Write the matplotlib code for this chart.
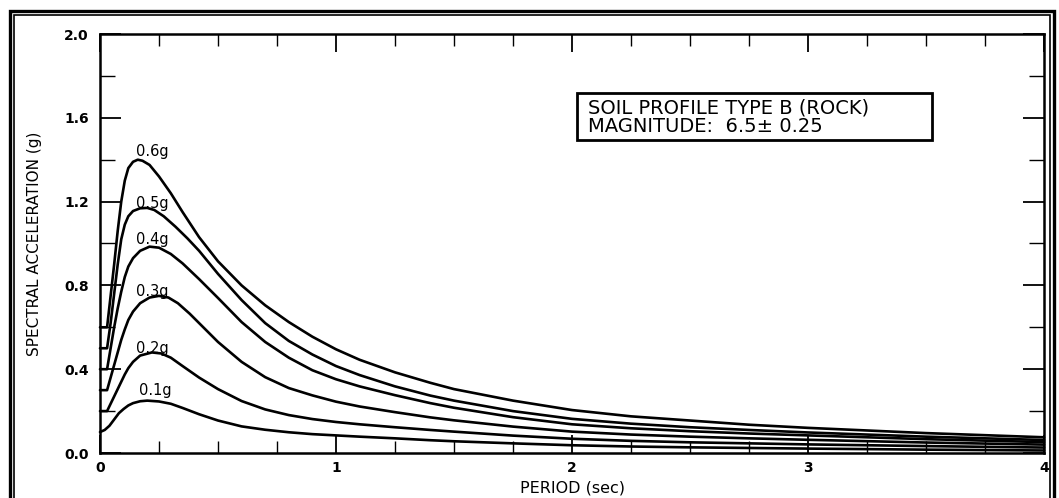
import matplotlib
matplotlib.use("Agg")
import matplotlib.pyplot as plt
from matplotlib.patches import Rectangle
from matplotlib.ticker import MultipleLocator

# ---------------- data ----------------
labels = ["0.6g", "0.5g", "0.4g", "0.3g", "0.2g", "0.1g"]

period_06 = [0.0, 0.03, 0.045, 0.06, 0.075, 0.09, 0.105, 0.12, 0.14, 0.16, 0.18, 0.21, 0.25,
             0.3, 0.35, 0.42, 0.5, 0.6, 0.7, 0.8, 0.9, 1.0, 1.1, 1.25, 1.4, 1.5, 1.75, 2.0,
             2.25, 2.5, 2.75, 3.0, 3.5, 4.0]
sa_06 = [0.60, 0.60, 0.75, 0.90, 1.06, 1.20, 1.30, 1.36, 1.39, 1.40, 1.395, 1.375, 1.32,
         1.24, 1.15, 1.03, 0.915, 0.80, 0.705, 0.625, 0.555, 0.495, 0.445, 0.385, 0.335,
         0.305, 0.25, 0.205, 0.175, 0.155, 0.135, 0.12, 0.095, 0.075]

period_05 = [0.0, 0.03, 0.045, 0.06, 0.075, 0.09, 0.105, 0.12, 0.14, 0.17, 0.2, 0.23, 0.27,
             0.32, 0.37, 0.42, 0.5, 0.6, 0.7, 0.8, 0.9, 1.0, 1.1, 1.25, 1.4, 1.5, 1.75, 2.0,
             2.25, 2.5, 2.75, 3.0, 3.5, 4.0]
sa_05 = [0.50, 0.50, 0.62, 0.76, 0.90, 1.02, 1.09, 1.13, 1.155, 1.168, 1.17, 1.16, 1.13,
         1.08, 1.025, 0.965, 0.855, 0.73, 0.62, 0.535, 0.47, 0.415, 0.372, 0.318, 0.274,
         0.25, 0.2, 0.163, 0.14, 0.123, 0.11, 0.098, 0.078, 0.062]

period_04 = [0.0, 0.03, 0.045, 0.06, 0.075, 0.09, 0.105, 0.12, 0.14, 0.17, 0.21, 0.25, 0.3,
             0.35, 0.42, 0.5, 0.6, 0.7, 0.8, 0.9, 1.0, 1.1, 1.25, 1.4, 1.5, 1.75, 2.0,
             2.25, 2.5, 2.75, 3.0, 3.5, 4.0]
sa_04 = [0.40, 0.40, 0.50, 0.60, 0.69, 0.77, 0.84, 0.89, 0.93, 0.965, 0.985, 0.98, 0.95,
         0.905, 0.83, 0.74, 0.625, 0.53, 0.455, 0.395, 0.352, 0.318, 0.276, 0.238, 0.216,
         0.171, 0.137, 0.118, 0.104, 0.093, 0.084, 0.066, 0.052]

period_03 = [0.0, 0.03, 0.045, 0.06, 0.075, 0.09, 0.105, 0.12, 0.14, 0.17, 0.21, 0.25, 0.29,
             0.33, 0.38, 0.42, 0.5, 0.6, 0.7, 0.8, 0.9, 1.0, 1.1, 1.25, 1.4, 1.5, 1.75, 2.0,
             2.25, 2.5, 2.75, 3.0, 3.5, 4.0]
sa_03 = [0.30, 0.30, 0.36, 0.42, 0.48, 0.54, 0.59, 0.635, 0.675, 0.715, 0.742, 0.75, 0.742,
         0.715, 0.665, 0.62, 0.53, 0.435, 0.362, 0.31, 0.275, 0.245, 0.222, 0.195, 0.17,
         0.156, 0.126, 0.102, 0.088, 0.078, 0.07, 0.063, 0.05, 0.04]

period_02 = [0.0, 0.03, 0.045, 0.06, 0.075, 0.09, 0.105, 0.12, 0.14, 0.17, 0.22, 0.26, 0.3,
             0.35, 0.42, 0.5, 0.6, 0.7, 0.8, 0.9, 1.0, 1.1, 1.25, 1.4, 1.5, 1.75, 2.0,
             2.25, 2.5, 2.75, 3.0, 3.5, 4.0]
sa_02 = [0.20, 0.20, 0.235, 0.27, 0.305, 0.34, 0.375, 0.405, 0.435, 0.465, 0.48, 0.475, 0.455,
         0.415, 0.36, 0.305, 0.248, 0.208, 0.181, 0.162, 0.148, 0.137, 0.123, 0.11, 0.102,
         0.083, 0.068, 0.058, 0.051, 0.046, 0.041, 0.033, 0.026]

period_01 = [0.0, 0.02, 0.04, 0.06, 0.08, 0.1, 0.12, 0.14, 0.17, 0.2, 0.25, 0.3, 0.35, 0.42,
             0.5, 0.6, 0.7, 0.8, 0.9, 1.0, 1.1, 1.25, 1.4, 1.5, 1.75, 2.0, 2.25, 2.5, 2.75,
             3.0, 3.5, 4.0]
sa_01 = [0.10, 0.11, 0.13, 0.16, 0.19, 0.21, 0.227, 0.238, 0.247, 0.25, 0.246, 0.235, 0.215,
         0.185, 0.155, 0.127, 0.111, 0.099, 0.09, 0.084, 0.078, 0.07, 0.061, 0.056, 0.046,
         0.037, 0.031, 0.027, 0.024, 0.021, 0.016, 0.012]

label_x = [0.22, 0.22, 0.22, 0.22, 0.22, 0.233]
label_y = [1.44, 1.19, 1.02, 0.77, 0.50, 0.30]

x_ticks = [0, 1, 2, 3, 4]
y_ticks = [0.0, 0.4, 0.8, 1.2, 1.6, 2.0]
y_ticklabels = ["0.0", "0.4", "0.8", "1.2", "1.6", "2.0"]

box_lines = ["SOIL PROFILE TYPE B (ROCK)", "MAGNITUDE:  6.5\u00b1 0.25"]

# ---------------- figure ----------------
W, H = 1059, 498
fig = plt.figure(figsize=(W / 100, H / 100), dpi=100)
fig.patch.set_facecolor("white")

def px(x, y):
    return x / W, 1 - y / H

left, top = px(100, 34)
right, bottom = px(1044, 453)
ax = fig.add_axes([left, bottom, right - left, top - bottom])

series = [(period_06, sa_06), (period_05, sa_05), (period_04, sa_04),
          (period_03, sa_03), (period_02, sa_02), (period_01, sa_01)]
for (t, s) in series:
    ax.plot(t, s, color="black", lw=1.9, solid_joinstyle="round",
            solid_capstyle="round", clip_on=False)

for lab, lx, ly in zip(labels, label_x, label_y):
    ax.text(lx, ly, lab, fontsize=10.5, ha="center", va="center", color="black")

ax.set_xlim(0, 4)
ax.set_ylim(0, 2.0)
ax.set_xticks(x_ticks)
ax.set_xticklabels([str(v) for v in x_ticks])
ax.xaxis.set_minor_locator(MultipleLocator(0.25))
ax.set_yticks(y_ticks)
ax.set_yticklabels(y_ticklabels)
ax.yaxis.set_minor_locator(MultipleLocator(0.2))

for sp in ax.spines.values():
    sp.set_linewidth(1.8)

ax.tick_params(axis="x", which="major", direction="in", length=13, width=1.3,
               top=True, bottom=True, labelsize=10, pad=6)
ax.tick_params(axis="x", which="minor", direction="in", length=8.5, width=1.0,
               top=True, bottom=True)
ax.tick_params(axis="y", which="major", direction="in", length=15, width=1.3,
               left=True, right=True, labelsize=10, pad=8)
ax.tick_params(axis="y", which="minor", direction="in", length=11, width=1.0,
               left=True, right=True)
for lbl in ax.get_xticklabels() + ax.get_yticklabels():
    lbl.set_fontweight("bold")

ax.set_xlabel("PERIOD (sec)", fontsize=11.5)
ax.xaxis.set_label_coords((572 - 100) / 944, -(480 - 453) / 419)
ax.set_ylabel("SPECTRAL ACCELERATION (g)", fontsize=11)
ax.yaxis.set_label_coords((42 - 100) / 944, 0.5)

# info box
bx0, by0 = px(577, 140)
bx1, by1 = px(932, 93)
fig.add_artist(Rectangle((bx0, by0), bx1 - bx0, by1 - by0, transform=fig.transFigure,
                         fill=False, lw=2.0, edgecolor="black"))
tx, ty1 = px(588, 108)
_, ty2 = px(588, 126)
fig.text(tx, ty1, box_lines[0], fontsize=14, ha="left", va="center")
fig.text(tx, ty2, box_lines[1], fontsize=14, ha="left", va="center")

# double page frame
ox0, oy0 = px(9.5, 505)
ox1, oy1 = px(1053.5, 11.5)
fig.add_artist(Rectangle((ox0, oy0), ox1 - ox0, oy1 - oy0, transform=fig.transFigure,
                         fill=False, lw=2.4, edgecolor="black"))
ix0, iy0 = px(13.5, 505)
ix1, iy1 = px(1049.5, 15)
fig.add_artist(Rectangle((ix0, iy0), ix1 - ix0, iy1 - iy0, transform=fig.transFigure,
                         fill=False, lw=1.2, edgecolor="black"))

fig.savefig("out.png", dpi=100, facecolor="white")
